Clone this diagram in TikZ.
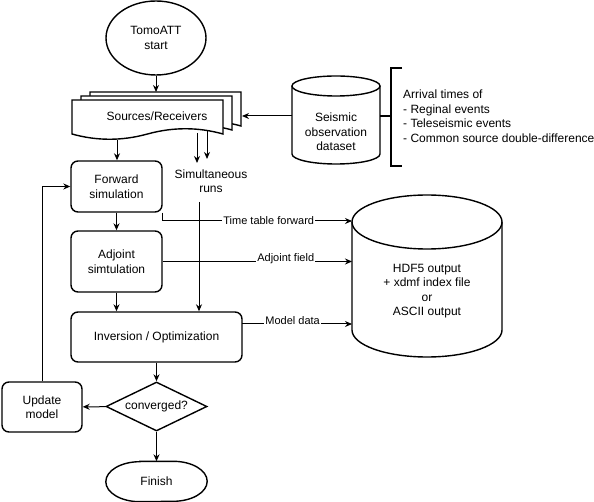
\documentclass[tikz,border=0pt]{standalone}
\usepackage{fontspec}
\setmainfont{Liberation Sans}
\usetikzlibrary{arrows.meta,shapes.geometric}

\begin{document}
\begin{tikzpicture}[x=1pt,y=-1pt,>={Stealth[length=7pt,width=6pt]}]
  \def\lw{1.4pt}

\tikzstyle{outline}=[draw,line width=\lw]
\tikzstyle{txt}=[font=\fontsize{12}{14.5}\selectfont,align=center,inner sep=0pt]
\tikzstyle{process}=[outline,txt,rectangle,rounded corners=7pt]
\tikzstyle{arr}=[->,line width=1pt]
\tikzstyle{lbl}=[font=\fontsize{11}{13}\selectfont,fill=white,inner sep=1pt]

\useasboundingbox (0,0) rectangle (594,502);

% start
\node[outline,txt,ellipse,minimum width=100pt,minimum height=74pt] (start) at (156,38) {TomoATT\\start};

% sources / receivers, three sheets
\foreach \k in {2,1,0}
  \filldraw[outline,fill=white,shift={(9*\k,-4*\k)}] (72,100) -- (223,100) -- (223,134)
    .. controls (198,127) and (173,127) .. (147.5,134)
    .. controls (122,141) and (97,141) .. (72,134) -- cycle;
\node[txt] (src) at (157,116) {Sources/Receivers};
\coordinate (srcN) at (156,92);
\coordinate (srcE) at (242,116);
\coordinate (srcS) at (117,140);
\coordinate (runA) at (197,133);
\coordinate (runAend) at (197,163);
\coordinate (runB) at (207,131);
\coordinate (runBend) at (207,159);

% seismic dataset
\draw[outline] (292,86) -- (292,154) arc[start angle=180,end angle=360,x radius=44pt,y radius=10pt] -- (380,86);
\draw[outline] (336,86) ellipse [x radius=44pt,y radius=10pt];
\node[txt] (obs) at (336,132) {Seismic\\observation\\dataset};
\coordinate (obsW) at (292,116);
\coordinate (obsE) at (380,116);

% bracket
\coordinate (brT) at (391,68);
\coordinate (brB) at (391,166);
\coordinate (brM) at (391,116);
\draw[outline] ([xshift=11pt]brT) -- (brT) -- (brB) -- ([xshift=11pt]brB);
\draw[outline] (obsE) -- (brM);
\node[txt,align=left,anchor=west] (arrv) at (403,116) {Arrival times of\\- Reginal events\\- Teleseismic events\\- Common source double-difference};

% solver steps
\node[process,minimum width=91pt,minimum height=51pt] (fwd) at (116.5,186.5) {Forward\\simulation};
\node[process,minimum width=91pt,minimum height=61pt] (adj) at (116.5,261.5) {Adjoint\\simtulation};
\node[process,minimum width=171pt,minimum height=50pt] (inv) at (156.5,337) {Inversion / Optimization};
\node[outline,txt,diamond,aspect=2,minimum width=101pt,minimum height=49pt] (conv) at (156.5,406.5) {converged?};
\node[process,minimum width=80pt,minimum height=50pt] (upd) at (42,407) {Update\\model};
\node[txt,minimum width=101pt,minimum height=40pt] (fin) at (156.5,481.5) {Finish};
\draw[outline] ([xshift=34pt]fin.north west) -- ([xshift=-34pt]fin.north east)
  arc[start angle=90,end angle=-90,x radius=34pt,y radius=20pt] -- ([xshift=34pt]fin.south west)
  arc[start angle=270,end angle=90,x radius=34pt,y radius=20pt] -- cycle;

\node[txt] (runs) at (211,181) {Simultaneous\\runs};
\coordinate (runsS) at (199,202);

% output
\draw[outline] (352,222) -- (352,330) arc[start angle=180,end angle=360,x radius=75pt,y radius=27pt] -- (502,222);
\draw[outline] (427,222) ellipse [x radius=75pt,y radius=27pt];
\node[txt] (db) at (427,291) {HDF5 output\\+ xdmf index file\\or\\ASCII output};
\coordinate (dbA) at (352,221);
\coordinate (dbB) at (352,261.5);
\coordinate (dbC) at (352,324);
\coordinate (invE) at (242,324);

% connectors
\draw[arr] (start.south) -- (srcN);
\draw[arr] (obsW) -- (srcE);
\draw[arr] (srcS) -- (srcS |- fwd.north);
\draw[arr] (runA) -- (runAend);
\draw[arr] (runB) -- (runBend);
\draw[arr] (fwd) -- (adj);
\draw[arr] (adj.south) -- (adj.south |- inv.north);
\draw[arr] (runsS) -- (runsS |- inv.north);
\draw[arr] (fwd.south east) |- node[lbl,pos=0.78] {Time table forward} (dbA);
\draw[arr] (adj.east) -- node[lbl,pos=0.65,yshift=3pt] {Adjoint field} (dbB);
\draw[arr] (invE) -- node[lbl,pos=0.46,yshift=3pt] {Model data} (dbC);
\draw[arr] (inv) -- (conv);
\draw[arr] (conv) -- (fin);
\draw[arr] (conv) -- (upd);
\draw[arr] (upd) |- (fwd);
\end{tikzpicture}
\end{document}
